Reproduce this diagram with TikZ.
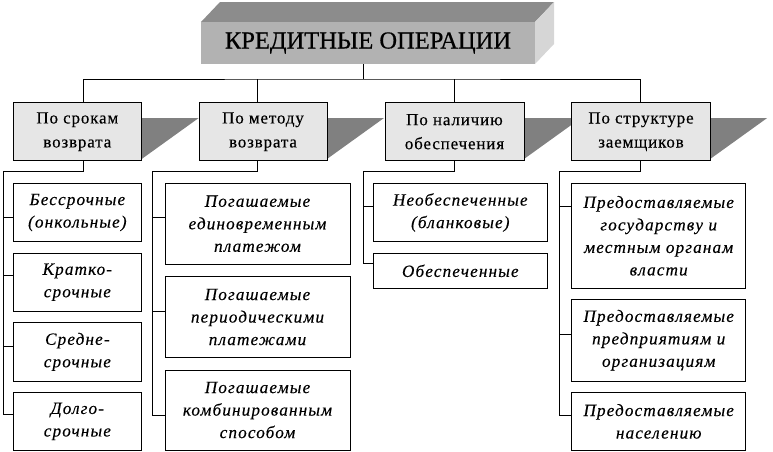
\documentclass[tikz,border=0pt]{standalone}
\usepackage{fontspec}
\setmainfont{Liberation Serif}
\usetikzlibrary{calc}
\definecolor{boxgray}{HTML}{E6E6E6}
\definecolor{tridark}{HTML}{808080}
\definecolor{frontgray}{HTML}{B2B2B2}
\definecolor{topgray}{HTML}{8C8C8C}
\definecolor{sidegray}{HTML}{D6D6D6}
\tikzset{
  catbox/.style={draw, line width=0.9pt, fill=boxgray, align=center, inner sep=0pt,
    font=\fontsize{17}{24}\selectfont\addfontfeature{LetterSpace=5,FakeBold=0.3}},
  childbox/.style={draw, line width=0.9pt, fill=white, align=center, inner sep=0pt,
    font=\fontsize{17.2}{22.5}\selectfont\itshape\addfontfeature{LetterSpace=6.5,FakeBold=0.3}},
  conn/.style={line width=0.9pt},
  tri/.style={fill=tridark}
}
\begin{document}
\begin{tikzpicture}[x=1pt,y=-1pt]
\useasboundingbox (0,0) rectangle (773,451);
% title 3D box
\fill[topgray] (201,22) -- (220,2) -- (554,2) -- (535,22) -- cycle;
\fill[sidegray] (535,22) -- (554,2) -- (554,44) -- (535,64) -- cycle;
\node[fill=frontgray, minimum width=334pt, minimum height=42pt, inner sep=0pt,
  font=\fontsize{24.5}{26}\selectfont\addfontfeature{FakeBold=0.6}] (top) at (368,43) {КРЕДИТНЫЕ ОПЕРАЦИИ};
% category boxes
\foreach \nm/\cx/\w in {c1/77.35/128.7, c2/263/128, c3/454.5/139, c4/641/138.3}{
  \coordinate (\nm-ne) at (\cx+\w/2,118);
  \fill[tri] (\nm-ne) -- ++(57,0) -- (\cx+\w/2,159) -- cycle;
}
\node[catbox, minimum width=128.7pt, minimum height=58pt] (c1) at (77.35,131.7) {По срокам\\возврата};
\node[catbox, minimum width=128pt, minimum height=58pt] (c2) at (263,131.7) {По методу\\возврата};
\node[catbox, minimum width=139pt, minimum height=58pt] (c3) at (454.5,131.7) {По наличию\\обеспечения};
\node[catbox, minimum width=138.3pt, minimum height=58pt] (c4) at (641,131.7) {По структуре\\заемщиков};
% children column 1
\node[childbox, minimum width=128.7pt, minimum height=58.4pt] (a1) at (77.35,212.5) {Бессрочные\\(онкольные)};
\node[childbox, minimum width=128.7pt, minimum height=57.7pt] (a2) at (77.35,282.2) {Кратко-\\срочные};
\node[childbox, minimum width=128.7pt, minimum height=58.3pt] (a3) at (77.35,351.9) {Средне-\\срочные};
\node[childbox, minimum width=128.7pt, minimum height=57.3pt] (a4) at (77.35,421.4) {Долго-\\срочные};
% column 2
\node[childbox, minimum width=185pt, minimum height=80.7pt] (b1) at (257.5,223.7) {Погашаемые\\единовременным\\платежом};
\node[childbox, minimum width=185pt, minimum height=80.6pt] (b2) at (257.5,317) {Погашаемые\\периодическими\\платежами};
\node[childbox, minimum width=185pt, minimum height=80pt] (b3) at (257.5,410) {Погашаемые\\комбинированным\\способом};
% column 3
\node[childbox, minimum width=174pt, minimum height=58.4pt] (d1) at (460.3,212.5) {Необеспеченные\\(бланковые)};
\node[childbox, minimum width=174pt, minimum height=35pt] (d2) at (460.3,270.8) {Обеспеченные};
% column 4
\node[childbox, minimum width=174pt, minimum height=105pt] (e1) at (658.7,235.8) {Предоставляемые\\государству и\\местным органам\\власти};
\node[childbox, minimum width=174pt, minimum height=81.7pt] (e2) at (658.7,340.2) {Предоставляемые\\предприятиям и\\организациям};
\node[childbox, minimum width=174pt, minimum height=57.3pt] (e3) at (658.7,421.4) {Предоставляемые\\населению};
% top connectors
\coordinate (j) at (363,79);
\draw[conn] (top.south -| j) -- (j);
\draw[conn] ([xshift=6pt]c1.north) |- (j) -| ([xshift=-1pt]c4.north);
\draw[conn] ([xshift=-6pt]c2.north) -- ([xshift=-6pt]c2.north |- j);
\draw[conn] (c3.north) -- (c3.north |- j);
% column buses
\coordinate (r1) at (3,171);
\coordinate (r2) at (152.7,171);
\coordinate (r3) at (363,171);
\coordinate (r4) at (559.3,171);
\draw[conn] ([xshift=6pt]c1.south) |- (r1);
\draw[conn] ([xshift=-6pt]c2.south) |- (r2);
\draw[conn] (c3.south) |- (r3);
\draw[conn] ([xshift=-1pt]c4.south) |- (r4);
\draw[conn] (r1) |- ([yshift=-4.5pt]a1.west);
\draw[conn] (r1) |- ([yshift=7pt]a2.west);
\draw[conn] (r1) |- ([yshift=5pt]a3.west);
\draw[conn] (r1) |- ([yshift=7pt]a4.west);
\draw[conn] (r2) |- ([yshift=6pt]b1.west);
\draw[conn] (r2) |- ([yshift=6pt]b2.west);
\draw[conn] (r2) |- ([yshift=-5pt]b3.west);
\draw[conn] (r3) |- ([yshift=6pt]d1.west);
\draw[conn] (r3) |- ([yshift=7pt]d2.west);
\draw[conn] (r4) |- ([yshift=29pt]e1.west);
\draw[conn] (r4) |- ([yshift=6pt]e2.west);
\draw[conn] (r4) |- ([yshift=6pt]e3.west);
\end{tikzpicture}
\end{document}
